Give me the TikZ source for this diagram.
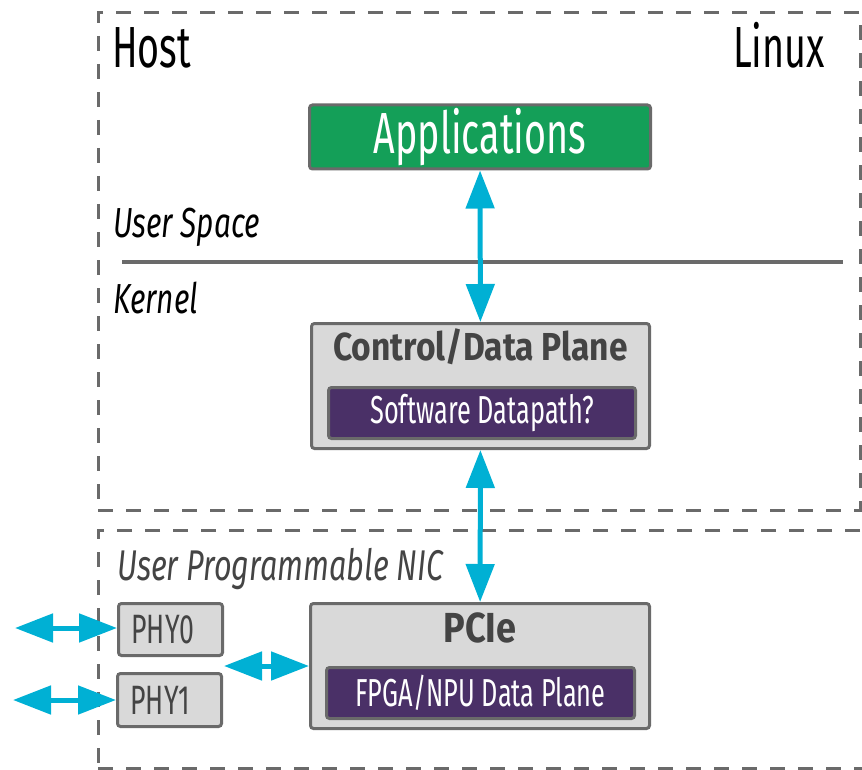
\documentclass[tikz,border=0pt]{standalone}
\usepackage{fontspec}
\setmainfont{Fira Sans}[FakeStretch=0.65]
\newfontfamily\headfont{Fira Sans}[FakeStretch=0.86]
\newfontfamily\zonefont{Fira Sans}[FakeStretch=0.71]
\usetikzlibrary{positioning}
\usetikzlibrary{arrows.meta}

\definecolor{linegray}{HTML}{6A6A6A}
\definecolor{boxfill}{HTML}{D9D9D9}
\definecolor{appgreen}{HTML}{149F58}
\definecolor{dppurple}{HTML}{4A3067}
\definecolor{linkcyan}{HTML}{00B0D4}
\definecolor{textgray}{HTML}{444444}

\newcommand{\fsz}[1]{\fontsize{#1}{#1}\selectfont}

\begin{document}
\begin{tikzpicture}[
            x = 1pt,
            y = -1pt,
            zone/.style = {
                draw = linegray,
                line width = 3pt,
                dash pattern = on 15pt off 13pt,
                inner sep = 0pt
            },
            box/.style = {
                draw = linegray,
                line width = 3pt,
                rounded corners = 3pt,
                fill = #1,
                inner sep = 0pt
            },
            box/.default = boxfill,
            link/.style = {
                linkcyan,
                line width = 5pt,
                {Triangle[length=38pt 0, width=28pt 0]}-{Triangle[length=38pt 0, width=28pt 0]}
            },
            caption/.style = {
                inner sep = 0pt,
                font = \fsz{#1}
            }
            ]
            \useasboundingbox (0,0) rectangle (862,770);

            % host and nic areas
            \node[zone, minimum width=762pt, minimum height=497pt] (host) at (479,261.5) {};
            \node[zone, minimum width=780pt, minimum height=238pt] (nic) at (488,649) {};

            \node[caption=58, anchor=base west] (hostlbl) at (112,68) {Host};
            \node[caption=58, anchor=base east] (linux) at (825,68) {Linux};
            \node[caption=42, anchor=base west] (user) at (113,237) {\zonefont\itshape User Space};
            \node[caption=42, anchor=base west] (kernel) at (113,313) {\zonefont\itshape Kernel};
            \draw[linegray, line width=4pt] (122,262) -- (843,262);
            \node[caption=43, anchor=base west, textgray] (niclbl) at (117,580) {\zonefont\itshape User Programmable NIC};

            % host side
            \node[box=appgreen, minimum width=341pt, minimum height=64pt,
                  font=\fsz{58}, text=white] (apps) at (480,137) {Applications};
            \node[box, minimum width=338pt, minimum height=125pt] (ctrl) at (480.5,386) {};
            \node[caption=39, anchor=base, textgray] (ctrlttl) at (480.5,360) {\headfont\bfseries Control/Data Plane};
            \node[box=dppurple, minimum width=307pt, minimum height=51pt,
                  font=\fsz{39}, text=white] (swdp) at (482,413) {Software Datapath?};

            % nic side
            \node[box, minimum width=339pt, minimum height=125pt] (pcie) at (480,666) {};
            \node[caption=42, anchor=base, textgray] (pciettl) at (480,642) {\headfont\bfseries PCIe};
            \node[box=dppurple, minimum width=308pt, minimum height=51pt,
                  font=\fsz{39}, text=white] (hwdp) at (480.5,693) {FPGA/NPU Data Plane};
            \node[box, minimum height=52pt, text width=78pt, inner xsep=13pt, align=left,
                  font=\fsz{41}, text=textgray] (phy0) at (170.5,629.5) {PHY0};
            \node[box, minimum height=53pt, text width=78pt, inner xsep=13pt, align=left,
                  font=\fsz{41}, text=textgray] (phy1) at (169.5,700) {PHY1};

            \coordinate (wire0) at (15,628);
            \coordinate (wire1) at (13,700);
            \coordinate (phys) at (224,666);

            \draw[link] (apps) -- (ctrl);
            \draw[link] (ctrl) -- (pcie);
            \draw[link] (wire0) -- (phy0.west |- wire0);
            \draw[link] (wire1) -- (phy1.west |- wire1);
            \draw[link] (phys) -- (pcie.west);
        \end{tikzpicture}
\end{document}
